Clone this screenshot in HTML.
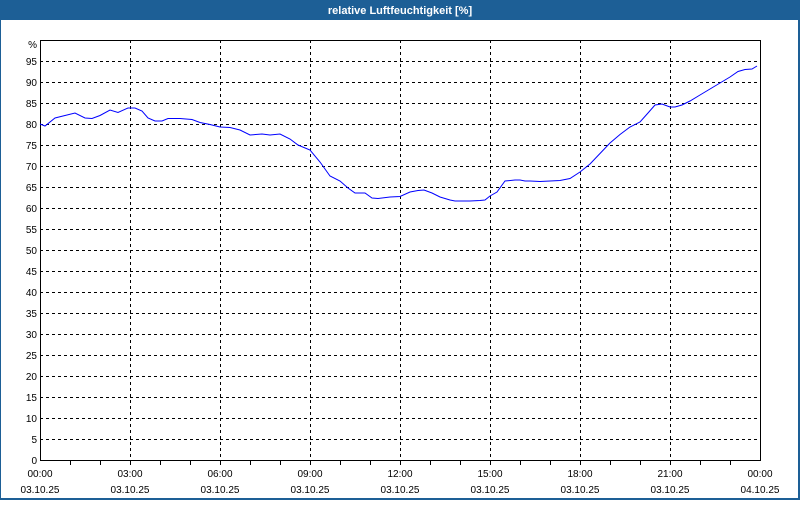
<!DOCTYPE html>
<html><head><meta charset="utf-8"><style>
body{margin:0;width:800px;height:500px;overflow:hidden;background:#fff}
</style></head><body>
<svg width="800" height="500" xmlns="http://www.w3.org/2000/svg" font-family="Liberation Sans, DejaVu Sans, sans-serif" font-size="10">
<rect x="0" y="0" width="800" height="500" fill="#1d5f96"/>
<rect x="1" y="20" width="797" height="478" fill="#fff"/>
<text x="400" y="14" fill="#fff" font-weight="bold" font-size="11" text-anchor="middle">relative Luftfeuchtigkeit [%]</text>
<g stroke="#000" stroke-dasharray="3,3" stroke-width="1">
<line x1="40" x2="760" y1="61.5" y2="61.5"/><line x1="40" x2="760" y1="82.5" y2="82.5"/><line x1="40" x2="760" y1="103.5" y2="103.5"/><line x1="40" x2="760" y1="124.5" y2="124.5"/><line x1="40" x2="760" y1="145.5" y2="145.5"/><line x1="40" x2="760" y1="166.5" y2="166.5"/><line x1="40" x2="760" y1="187.5" y2="187.5"/><line x1="40" x2="760" y1="208.5" y2="208.5"/><line x1="40" x2="760" y1="229.5" y2="229.5"/><line x1="40" x2="760" y1="250.5" y2="250.5"/><line x1="40" x2="760" y1="271.5" y2="271.5"/><line x1="40" x2="760" y1="292.5" y2="292.5"/><line x1="40" x2="760" y1="313.5" y2="313.5"/><line x1="40" x2="760" y1="334.5" y2="334.5"/><line x1="40" x2="760" y1="355.5" y2="355.5"/><line x1="40" x2="760" y1="376.5" y2="376.5"/><line x1="40" x2="760" y1="397.5" y2="397.5"/><line x1="40" x2="760" y1="418.5" y2="418.5"/><line x1="40" x2="760" y1="439.5" y2="439.5"/>
<line y1="40" y2="460" x1="130.5" x2="130.5"/><line y1="40" y2="460" x1="220.5" x2="220.5"/><line y1="40" y2="460" x1="310.5" x2="310.5"/><line y1="40" y2="460" x1="400.5" x2="400.5"/><line y1="40" y2="460" x1="490.5" x2="490.5"/><line y1="40" y2="460" x1="580.5" x2="580.5"/><line y1="40" y2="460" x1="670.5" x2="670.5"/>
</g>
<rect x="40.5" y="40.5" width="720" height="420" fill="none" stroke="#000"/>
<g stroke="#000">
<line x1="70.5" x2="70.5" y1="460" y2="465"/><line x1="100.5" x2="100.5" y1="460" y2="465"/><line x1="130.5" x2="130.5" y1="460" y2="465"/><line x1="160.5" x2="160.5" y1="460" y2="465"/><line x1="190.5" x2="190.5" y1="460" y2="465"/><line x1="220.5" x2="220.5" y1="460" y2="465"/><line x1="250.5" x2="250.5" y1="460" y2="465"/><line x1="280.5" x2="280.5" y1="460" y2="465"/><line x1="310.5" x2="310.5" y1="460" y2="465"/><line x1="340.5" x2="340.5" y1="460" y2="465"/><line x1="370.5" x2="370.5" y1="460" y2="465"/><line x1="400.5" x2="400.5" y1="460" y2="465"/><line x1="430.5" x2="430.5" y1="460" y2="465"/><line x1="460.5" x2="460.5" y1="460" y2="465"/><line x1="490.5" x2="490.5" y1="460" y2="465"/><line x1="520.5" x2="520.5" y1="460" y2="465"/><line x1="550.5" x2="550.5" y1="460" y2="465"/><line x1="580.5" x2="580.5" y1="460" y2="465"/><line x1="610.5" x2="610.5" y1="460" y2="465"/><line x1="640.5" x2="640.5" y1="460" y2="465"/><line x1="670.5" x2="670.5" y1="460" y2="465"/><line x1="700.5" x2="700.5" y1="460" y2="465"/><line x1="730.5" x2="730.5" y1="460" y2="465"/>
</g>
<g text-anchor="end" fill="#000">
<text x="37" y="48">%</text><text x="37" y="65">95</text><text x="37" y="86">90</text><text x="37" y="107">85</text><text x="37" y="128">80</text><text x="37" y="149">75</text><text x="37" y="170">70</text><text x="37" y="191">65</text><text x="37" y="212">60</text><text x="37" y="233">55</text><text x="37" y="254">50</text><text x="37" y="275">45</text><text x="37" y="296">40</text><text x="37" y="317">35</text><text x="37" y="338">30</text><text x="37" y="359">25</text><text x="37" y="380">20</text><text x="37" y="401">15</text><text x="37" y="422">10</text><text x="37" y="443">5</text><text x="37" y="464">0</text>
</g>
<g text-anchor="middle" fill="#000">
<text x="40" y="477">00:00</text><text x="40" y="493">03.10.25</text>
<text x="130" y="477">03:00</text><text x="130" y="493">03.10.25</text>
<text x="220" y="477">06:00</text><text x="220" y="493">03.10.25</text>
<text x="310" y="477">09:00</text><text x="310" y="493">03.10.25</text>
<text x="400" y="477">12:00</text><text x="400" y="493">03.10.25</text>
<text x="490" y="477">15:00</text><text x="490" y="493">03.10.25</text>
<text x="580" y="477">18:00</text><text x="580" y="493">03.10.25</text>
<text x="670" y="477">21:00</text><text x="670" y="493">03.10.25</text>
<text x="760" y="477">00:00</text><text x="760" y="493">04.10.25</text>
</g>
<polyline fill="none" stroke="#0000ff" stroke-width="1" points="40,124 45,126 55,118 65,115.5 75,113 85,118 92,118.5 100,115.5 110,110 118,112.5 128,108 135,108 142,111 148,118 155,121 162,121 168,118.5 180,118.5 192,119.5 200,122.5 210,124.5 220,127 230,127.5 240,130 250,135 262,134 270,135 280,134 290,139 298,145 310,150 320,162 330,176 340,181 348,188 355,193 365,193 372,198 378,198.5 390,197 400,196.5 410,192 418,190.5 424,190 432,193 440,197 450,200 455,201 470,201 480,200.5 485,200 490,196 497,192 505,181 515,180 520,180 525,181 530,181 540,181.5 550,181 560,180.5 570,178.5 580,172 590,164 600,153.5 610,143 620,134.5 630,127 640,122 648,113 655,105 662,104 670,107 675,107 682,105 690,101 700,95 710,89 720,83 730,77 738,71.5 745,69.5 752,69 757,66"/>
</svg>
</body></html>
